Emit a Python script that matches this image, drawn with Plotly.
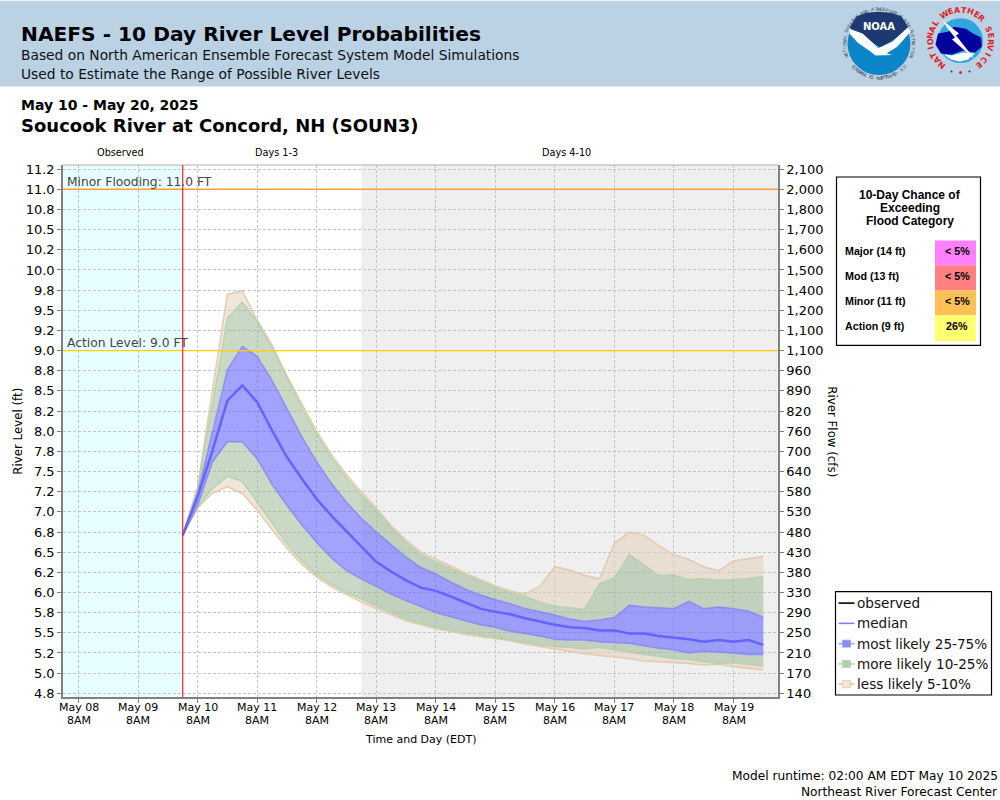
import math
import pandas as pd
import plotly.graph_objects as go

# forecast every 6 hours from the model run
forecast_times = pd.date_range("2025-05-10 02:00", periods=40, freq="6h")

level_p95 = [6.71, 7.31, 8.51, 9.70, 9.74, 9.38, 9.07, 8.69, 8.34, 8.00, 7.71, 7.46, 7.25, 7.05,
             6.83, 6.65, 6.50, 6.42, 6.33, 6.24, 6.16, 6.08, 6.02, 5.98, 6.08, 6.32, 6.28,
             6.21, 6.17, 6.61, 6.75, 6.71, 6.58, 6.47, 6.41, 6.32, 6.27, 6.39, 6.42, 6.45]
level_p90 = [6.71, 7.29, 8.34, 9.40, 9.60, 9.36, 9.03, 8.65, 8.29, 7.96, 7.67, 7.42, 7.21, 7.02,
             6.81, 6.62, 6.47, 6.38, 6.30, 6.22, 6.13, 6.06, 6.00, 5.95, 5.88, 5.83, 5.81,
             5.79, 6.11, 6.18, 6.47, 6.34, 6.21, 6.22, 6.16, 6.17, 6.15, 6.16, 6.17, 6.20]
level_p75 = [6.71, 7.23, 7.99, 8.76, 9.05, 8.93, 8.63, 8.28, 7.93, 7.62, 7.35, 7.12, 6.92, 6.75,
             6.60, 6.44, 6.31, 6.23, 6.13, 6.04, 5.97, 5.91, 5.86, 5.80, 5.76, 5.72, 5.67,
             5.64, 5.66, 5.69, 5.84, 5.82, 5.81, 5.80, 5.89, 5.80, 5.82, 5.80, 5.77, 5.69]
level_median = [6.71, 7.19, 7.76, 8.38, 8.57, 8.36, 8.01, 7.68, 7.41, 7.16, 6.95, 6.76, 6.56, 6.38,
                6.26, 6.15, 6.06, 6.02, 5.95, 5.87, 5.80, 5.76, 5.73, 5.68, 5.64, 5.60, 5.57,
                5.56, 5.53, 5.53, 5.49, 5.49, 5.46, 5.44, 5.42, 5.39, 5.41, 5.39, 5.41, 5.35]
level_p25 = [6.71, 7.08, 7.62, 7.87, 7.87, 7.66, 7.34, 7.08, 6.84, 6.62, 6.43, 6.27, 6.17, 6.07,
             5.98, 5.90, 5.82, 5.75, 5.70, 5.65, 5.60, 5.57, 5.52, 5.49, 5.46, 5.42, 5.41,
             5.41, 5.39, 5.38, 5.37, 5.34, 5.31, 5.29, 5.25, 5.27, 5.26, 5.25, 5.23, 5.23]
level_p10 = [6.71, 7.06, 7.29, 7.44, 7.38, 7.12, 6.85, 6.60, 6.39, 6.22, 6.10, 6.00, 5.92, 5.83,
             5.75, 5.67, 5.62, 5.57, 5.53, 5.50, 5.47, 5.44, 5.41, 5.38, 5.35, 5.33, 5.32,
             5.30, 5.32, 5.29, 5.26, 5.23, 5.21, 5.18, 5.17, 5.14, 5.12, 5.13, 5.11, 5.09]
level_p5 = [6.71, 7.05, 7.23, 7.31, 7.23, 7.02, 6.78, 6.55, 6.35, 6.19, 6.07, 5.97, 5.88, 5.80,
            5.72, 5.65, 5.60, 5.55, 5.52, 5.48, 5.45, 5.43, 5.40, 5.36, 5.33, 5.30, 5.27,
            5.24, 5.22, 5.20, 5.18, 5.15, 5.14, 5.13, 5.12, 5.10, 5.11, 5.08, 5.06, 5.04]

level_ticks = [4.75, 5.0, 5.25, 5.5, 5.75, 6.0, 6.25, 6.5, 6.75, 7.0, 7.25, 7.5, 7.75, 8.0,
               8.25, 8.5, 8.75, 9.0, 9.25, 9.5, 9.75, 10.0, 10.25, 10.5, 10.75, 11.0, 11.25]
level_labels = ["4.8", "5.0", "5.2", "5.5", "5.8", "6.0", "6.2", "6.5", "6.8", "7.0", "7.2", "7.5",
                "7.8", "8.0", "8.2", "8.5", "8.8", "9.0", "9.2", "9.5", "9.8", "10.0", "10.2",
                "10.5", "10.8", "11.0", "11.2"]
flow_labels = ["140", "170", "210", "250", "290", "330", "380", "430", "480", "530", "580", "640",
               "700", "760", "820", "890", "960", "1,100", "1,100", "1,200", "1,400", "1,500",
               "1,600", "1,700", "1,800", "2,000", "2,100"]

day_ticks = pd.date_range("2025-05-08 08:00", periods=12, freq="D")
day_labels = [d.strftime("%b %d") for d in day_ticks]

model_run = "2025-05-10 02:00"
days_4_start = "2025-05-13 02:00"
x_start = "2025-05-08 01:45"
x_end = "2025-05-20 01:56"
minor_level = 11.0
action_level = 9.0

table_rows = ["Major (14 ft)", "Mod (13 ft)", "Minor (11 ft)", "Action (9 ft)"]
table_values = ["< 5%", "< 5%", "< 5%", "26%"]
table_colors = ["#FF80FF", "#FF8080", "#FFC055", "#FFFF70"]

# plot area in page pixels, everything around the chart is placed with these
LEFT, RIGHT, TOP, BOTTOM = 63, 778, 164.5, 697

BLUE_FILL = "rgba(100,100,255,0.6)"
GREEN_FILL = "rgba(150,180,140,0.5)"
TAN_FILL = "rgba(225,205,180,0.5)"
BLUE_EDGE = "rgba(130,130,250,0.8)"
GREEN_EDGE = "rgba(180,210,170,0.9)"
TAN_EDGE = "rgba(225,200,170,0.9)"


def px(x):
    return (x - LEFT) / (RIGHT - LEFT)


def py(y):
    return (BOTTOM - y) / (BOTTOM - TOP)


fig = go.Figure()


def add_text(x, y, text, size, family="DejaVu Sans", color="black", anchor="left", angle=0):
    fig.add_annotation(x=px(x), y=py(y), xref="paper", yref="paper", text=text, showarrow=False,
                       xanchor=anchor, yanchor="middle", textangle=angle,
                       font=dict(size=size, family=family, color=color),
                       borderpad=0, borderwidth=0)


def add_rect(x0, y0, x1, y1, fill, line=None, width=1, layer="above"):
    fig.add_shape(type="rect", xref="paper", yref="paper", x0=px(x0), y0=py(y0), x1=px(x1), y1=py(y1),
                  fillcolor=fill, line=dict(color=line or fill, width=width if line else 0), layer=layer)


def add_circle(cx, cy, r, fill):
    fig.add_shape(type="circle", xref="paper", yref="paper", x0=px(cx - r), x1=px(cx + r),
                  y0=py(cy + r), y1=py(cy - r), fillcolor=fill, line=dict(width=0))


def add_poly(points, fill):
    path = "M " + " L ".join(f"{px(a):.5f} {py(b):.5f}" for a, b in points) + " Z"
    fig.add_shape(type="path", xref="paper", yref="paper", path=path, fillcolor=fill, line=dict(width=0))


def ring_text(text, cx, cy, r, start, end, size, color, bold=False, flip=False):
    # one annotation per letter around a circle, angles clockwise from the top
    for k, ch in enumerate(text):
        if ch == " ":
            continue
        a = start + (end - start) * k / (len(text) - 1)
        t = math.radians(a)
        label = f"<b>{ch}</b>" if bold else ch
        add_text(cx + r * math.sin(t), cy - r * math.cos(t), label, size, color=color,
                 anchor="center", angle=a + 180 if flip else a)


# bands, lower edge first then upper edge filled back to it
bands = [
    (level_p5, level_p10, TAN_FILL),
    (level_p10, level_p25, GREEN_FILL),
    (level_p25, level_p75, BLUE_FILL),
    (level_p75, level_p90, GREEN_FILL),
    (level_p90, level_p95, TAN_FILL),
]
for low, high, fill in bands:
    fig.add_trace(go.Scatter(x=forecast_times, y=low, mode="lines", line=dict(width=0),
                             showlegend=False, hoverinfo="skip"))
    fig.add_trace(go.Scatter(x=forecast_times, y=high, mode="lines", line=dict(width=0),
                             fill="tonexty", fillcolor=fill, showlegend=False, hoverinfo="skip"))

edges = [(level_p5, TAN_EDGE), (level_p95, TAN_EDGE), (level_p10, GREEN_EDGE), (level_p90, GREEN_EDGE),
         (level_p25, BLUE_EDGE), (level_p75, BLUE_EDGE)]
for values, color in edges:
    fig.add_trace(go.Scatter(x=forecast_times, y=values, mode="lines", line=dict(color=color, width=1.5),
                             showlegend=False, hoverinfo="skip"))

fig.add_trace(go.Scatter(x=forecast_times, y=level_median, mode="lines", name="median",
                         line=dict(color="#6464FF", width=2.5), showlegend=False))

# empty trace so the flow axis gets drawn
fig.add_trace(go.Scatter(x=[forecast_times[0]], y=[None], yaxis="y2", showlegend=False, hoverinfo="skip"))

# period backgrounds
fig.add_shape(type="rect", xref="x", yref="paper", x0=x_start, x1=model_run, y0=0, y1=1,
              fillcolor="#E8FFFF", line=dict(width=0), layer="below")
fig.add_shape(type="rect", xref="x", yref="paper", x0=days_4_start, x1=x_end, y0=0, y1=1,
              fillcolor="#EFEFEF", line=dict(width=0), layer="below")

# top frame line is lighter than the axes
fig.add_shape(type="line", xref="paper", yref="paper", x0=0, x1=1, y0=1, y1=1,
              line=dict(color="#B0B0B0", width=1))

# flood levels and model run line
fig.add_shape(type="line", xref="paper", yref="y", x0=0, x1=1, y0=minor_level, y1=minor_level,
              line=dict(color="#FFA030", width=1.5))
fig.add_shape(type="line", xref="paper", yref="y", x0=0, x1=1, y0=action_level, y1=action_level,
              line=dict(color="#FFCC00", width=1.4))
fig.add_shape(type="line", xref="x", yref="paper", x0=model_run, x1=model_run, y0=0, y1=1,
              line=dict(color="#FF2020", width=1.2))
add_text(67, 181.5, "Minor Flooding: 11.0 FT", 12.3, color="#444444")
add_text(67, 342.5, "Action Level: 9.0 FT", 12.3, color="#444444")

# header
add_rect(0, 0, 1000, 86, "#BBD1E4")
add_text(21, 33, "<b>NAEFS - 10 Day River Level Probabilities</b>", 20.2)
add_text(21, 54, "Based on North American Ensemble Forecast System Model Simulations", 13.8, color="#111111")
add_text(21, 73, "Used to Estimate the Range of Possible River Levels", 13.8, color="#111111")
add_text(21, 104, "<b>May 10 - May 20, 2025</b>", 14)
add_text(21, 124.5, "<b>Soucook River at Concord, NH (SOUN3)</b>", 18)

# period captions
add_text(120, 152, "Observed", 9.7, anchor="center")
add_text(276, 152, "Days 1-3", 9.7, anchor="center")
add_text(566.5, 152, "Days 4-10", 9.7, anchor="center")

# axis titles
add_text(18, 430.5, "River Level (ft)", 11.8, anchor="center", angle=-90)
add_text(832, 431, "River Flow (cfs)", 11.8, anchor="center", angle=90)
add_text(421, 740, "Time and Day (EDT)", 11, anchor="center")

# two line day labels, the axis own line spacing is too wide for them
for tick, label in zip(day_ticks, day_labels):
    fig.add_annotation(x=tick, y=py(708), xref="x", yref="paper", text=label, showarrow=False,
                       xanchor="center", yanchor="middle", font=dict(size=11, family="DejaVu Sans", color="black"))
    fig.add_annotation(x=tick, y=py(721), xref="x", yref="paper", text="8AM", showarrow=False,
                       xanchor="center", yanchor="middle", font=dict(size=11, family="DejaVu Sans", color="black"))

# flood category table
add_rect(836.5, 176.5, 980.5, 345, "white", line="black", width=1.2)
for k, title in enumerate(["10-Day Chance of", "Exceeding", "Flood Category"]):
    add_text(910, 195 + 13 * k, f"<b>{title}</b>", 12, family="Liberation Sans", anchor="center")
for k, (row, value, color) in enumerate(zip(table_rows, table_values, table_colors)):
    y0 = 240 + 25 * k
    add_rect(935, y0, 976, y0 + 25 + (1 if k == 3 else 0), color)
    add_text(845, y0 + 10.5, f"<b>{row}</b>", 10.7, family="Liberation Sans")
    add_text(957, y0 + 10.5, f"<b>{value}</b>", 10.7, family="Liberation Sans", anchor="center")

# legend, drawn by hand so it keeps the short swatches
add_rect(835.5, 591.5, 991.5, 695, "white", line="black", width=1.2)
legend_names = ["observed", "median", "most likely 25-75%", "more likely 10-25%", "less likely 5-10%"]
legend_lines = ["#000000", "#8080FF", "#A0A0FF", "#B4D2AA", "#E1C8AA"]
legend_boxes = [None, None, "#8C8CF0", "#B4CCB4", "#F0E6DA"]
for k, name in enumerate(legend_names):
    y = 603 + 20.3 * k
    fig.add_shape(type="line", xref="paper", yref="paper", x0=px(838.5), x1=px(854.5), y0=py(y), y1=py(y),
                  line=dict(color=legend_lines[k], width=1.6))
    if legend_boxes[k]:
        add_rect(842.5, y - 3.5, 850.5, y + 3.5, legend_boxes[k], line=legend_lines[k], width=0.8)
    add_text(857, y, name, 13.6, color="#111111")

# footer
add_text(998, 776, "Model runtime: 02:00 AM EDT May 10 2025", 12.2, anchor="right")
add_text(998, 792, "Northeast River Forecast Center", 12.2, anchor="right")

# NOAA logo
add_circle(879, 43, 31.5, "#0A85C8")
add_poly([(849.5, 27), (856.5, 15.5), (866.5, 12), (878.5, 11), (890.5, 12), (901.5, 15.5), (908.5, 27),
          (896.5, 37), (881.5, 47), (868.5, 40), (858.5, 33)], "#1E3870")
add_poly([(849.5, 28), (862.5, 33), (878.5, 47.5), (892.5, 41), (908.5, 26), (910.5, 31), (897.5, 46),
          (886.5, 53), (892.5, 54.5), (875.5, 55), (870.5, 51), (857.5, 42), (849.5, 33)], "white")
add_text(879, 26, "<b>NOAA</b>", 10, color="white", anchor="center")
ring_text("NATIONAL OCEANIC AND ATMOSPHERIC ADMINISTRATION", 879, 43, 34.5, -112, 112, 4.5, "#404858")
ring_text("U.S. DEPARTMENT OF COMMERCE", 879, 43, 34.5, 132, 228, 4.5, "#404858", flip=True)

# NWS logo
add_circle(960.5, 40, 22.5, "#2FA6E0")
add_poly([(935.5, 44), (938, 33), (948, 31), (954, 26), (966, 28), (973, 33), (981, 37), (982, 46),
          (975, 52), (963, 50), (952, 54), (941, 53)], "#00009A")
add_poly([(944, 54), (952, 55), (963, 52), (975, 53), (968, 59), (960, 61), (951, 59)], "white")
add_poly([(943, 20), (959, 33), (956, 35), (975, 59), (952, 39), (955, 37), (947, 27)], "white")
ring_text("NATIONAL WEATHER SERVICE", 960.5, 40, 30.5, -142, 142, 8, "#E02020", bold=True)
add_circle(951.5, 71, 1, "#1030A0")
add_circle(960.5, 72, 1.5, "#E02020")
add_circle(969.5, 71, 1, "#1030A0")

fig.update_layout(
    width=1000,
    height=800,
    margin=dict(l=LEFT, r=1000 - RIGHT, t=TOP, b=800 - BOTTOM, pad=0),
    paper_bgcolor="white",
    plot_bgcolor="white",
    showlegend=False,
    xaxis=dict(type="date", range=[x_start, x_end], tickmode="array", tickvals=day_ticks, ticktext=[""] * 12,
               showgrid=True, gridcolor="#C4C4C4", griddash="3px,2px", gridwidth=1, showline=True,
               linecolor="#808080", linewidth=1.5, ticks="outside", ticklen=4, tickcolor="#808080",
               zeroline=False),
    yaxis=dict(range=[4.704, 11.302], tickmode="array", tickvals=level_ticks, ticktext=level_labels,
               showgrid=True, gridcolor="#C4C4C4", griddash="3px,2px", gridwidth=1, showline=True,
               linecolor="#808080", linewidth=1.5, ticks="outside", ticklen=4, tickcolor="#808080",
               tickfont=dict(size=13, family="DejaVu Sans", color="black"), zeroline=False),
    yaxis2=dict(range=[4.704, 11.302], overlaying="y", side="right", tickmode="array", tickvals=level_ticks,
                ticktext=flow_labels, showgrid=False, showline=True, linecolor="#808080", linewidth=1.5,
                ticks="outside", ticklen=4, tickcolor="#808080",
                tickfont=dict(size=13, family="DejaVu Sans", color="black"), zeroline=False),
)

# drop the default page margin so the figure fills the 1000x800 window
fig.write_html("out.html", config={"displayModeBar": False}, post_script="document.body.style.margin='0';")
